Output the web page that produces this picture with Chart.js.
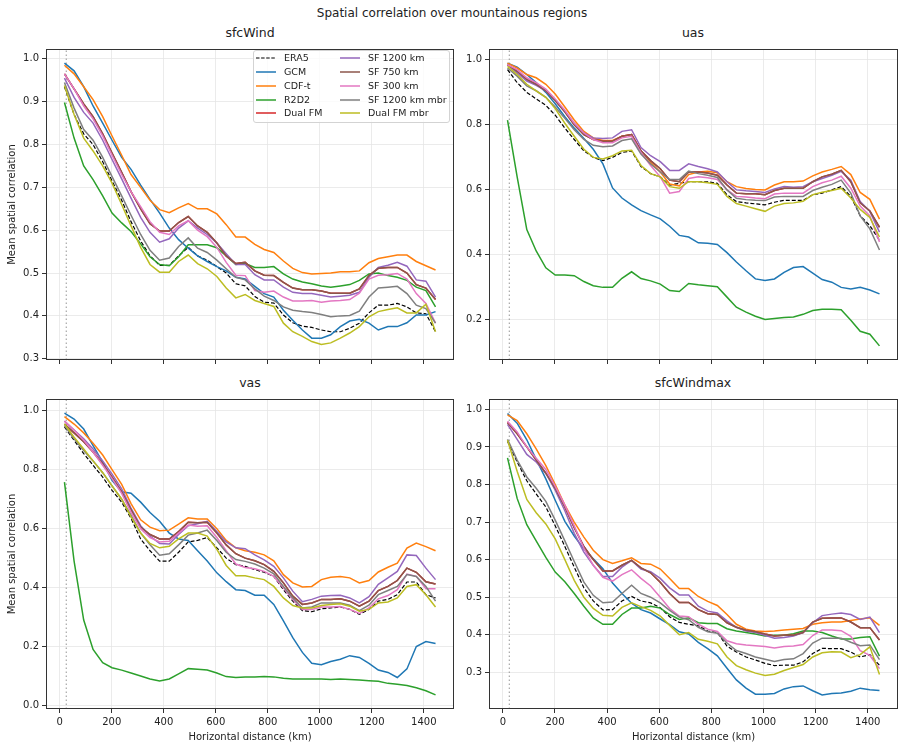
<!DOCTYPE html>
<html>
<head>
<meta charset="utf-8">
<script src="https://cdn.jsdelivr.net/npm/chart.js@4.4.1/dist/chart.umd.min.js"></script>
<style>
  body { margin: 0; background: #fff; font-family: "DejaVu Sans", sans-serif; color: #222; }
  #page { position: relative; width: 905px; height: 749px; overflow: hidden; }
  canvas { position: absolute; }
  .txt { position: absolute; transform: translate(-50%, -50%); white-space: nowrap; line-height: 1; }
  #legend { position: absolute; left: 253px; top: 50px; width: 195px; height: 71px;
    background: rgba(255,255,255,0.8); border: 1px solid #d3d3d3; border-radius: 3px; }
  #legend .item { position: absolute; height: 12px; font-size: 9.5px; line-height: 12px; white-space: nowrap; }
  #legend svg { position: absolute; left: 0; top: 1px; }
  #legend span { position: absolute; left: 28px; top: 0; }
</style>
</head>
<body>
<div id="page">
  <div class="txt" style="left:452px;top:13px;font-size:12px">Spatial correlation over mountainous regions</div>
  <div class="txt" style="left:250px;top:33px;font-size:12.5px">sfcWind</div>
  <div class="txt" style="left:693px;top:33px;font-size:12.5px">uas</div>
  <div class="txt" style="left:250px;top:383px;font-size:12.5px">vas</div>
  <div class="txt" style="left:693px;top:383px;font-size:12.5px">sfcWindmax</div>

  <canvas id="cSfcWind" width="460" height="332" style="left:0;top:40px"></canvas>
  <canvas id="cUas" width="445" height="332" style="left:460px;top:40px"></canvas>
  <canvas id="cVas" width="460" height="359" style="left:0;top:390px"></canvas>
  <canvas id="cSfcWindmax" width="445" height="359" style="left:460px;top:390px"></canvas>

  <div id="legend"></div>
</div>

<script>
// ====== DATA ======
const distanceKm = [18, 55, 92, 128, 165, 201, 238, 274, 311, 347, 384, 421, 457, 494, 530, 567, 604, 640, 677, 713,
  750, 786, 823, 860, 896, 933, 969, 1006, 1042, 1079, 1115, 1152, 1189, 1225, 1262, 1298, 1335, 1371, 1408, 1445];
const xTicks = [0, 200, 400, 600, 800, 1000, 1200, 1400];
const resolutionKm = 25;

const seriesNames = ["ERA5", "GCM", "CDF-t", "R2D2", "Dual FM", "SF 1200 km", "SF 750 km", "SF 300 km", "SF 1200 km mbr", "Dual FM mbr"];
const seriesColors = ["#000000", "#1f77b4", "#ff7f0e", "#2ca02c", "#d62728", "#9467bd", "#8c564b", "#e377c2", "#7f7f7f", "#bcbd22"];

// one row per series, same order as seriesNames
const sfcWindValues = [
  [0.935, 0.87, 0.825, 0.80, 0.76, 0.715, 0.67, 0.62, 0.575, 0.54, 0.518, 0.518, 0.54, 0.56, 0.54, 0.53, 0.515, 0.50, 0.475, 0.47, 0.445, 0.432, 0.43, 0.402, 0.384, 0.376, 0.373, 0.367, 0.363, 0.363, 0.371, 0.383, 0.407, 0.425, 0.425, 0.429, 0.421, 0.407, 0.405, 0.363],
  [0.99, 0.972, 0.935, 0.89, 0.85, 0.81, 0.77, 0.742, 0.705, 0.672, 0.64, 0.605, 0.578, 0.558, 0.54, 0.527, 0.515, 0.505, 0.49, 0.486, 0.469, 0.452, 0.444, 0.413, 0.39, 0.367, 0.348, 0.348, 0.356, 0.375, 0.388, 0.392, 0.383, 0.367, 0.375, 0.375, 0.384, 0.402, 0.402, 0.41],
  [0.985, 0.965, 0.935, 0.905, 0.865, 0.82, 0.775, 0.73, 0.70, 0.67, 0.648, 0.641, 0.652, 0.662, 0.65, 0.65, 0.638, 0.613, 0.584, 0.584, 0.567, 0.555, 0.548, 0.528, 0.511, 0.501, 0.498, 0.499, 0.50, 0.503, 0.503, 0.505, 0.524, 0.534, 0.538, 0.542, 0.542, 0.527, 0.517, 0.507],
  [0.898, 0.815, 0.75, 0.718, 0.68, 0.64, 0.617, 0.597, 0.568, 0.538, 0.52, 0.517, 0.538, 0.566, 0.566, 0.566, 0.559, 0.54, 0.52, 0.522, 0.513, 0.513, 0.515, 0.498, 0.486, 0.479, 0.475, 0.47, 0.467, 0.47, 0.473, 0.483, 0.498, 0.50, 0.494, 0.49, 0.483, 0.467, 0.459, 0.421],
  [0.965, 0.93, 0.895, 0.865, 0.825, 0.78, 0.735, 0.69, 0.65, 0.615, 0.598, 0.598, 0.618, 0.632, 0.61, 0.595, 0.57, 0.54, 0.522, 0.525, 0.505, 0.495, 0.494, 0.478, 0.465, 0.461, 0.461, 0.458, 0.453, 0.453, 0.453, 0.463, 0.494, 0.511, 0.513, 0.513, 0.50, 0.473, 0.465, 0.438],
  [0.955, 0.91, 0.875, 0.85, 0.81, 0.765, 0.72, 0.675, 0.63, 0.595, 0.572, 0.58, 0.605, 0.622, 0.605, 0.59, 0.57, 0.545, 0.52, 0.52, 0.496, 0.484, 0.484, 0.467, 0.455, 0.452, 0.452, 0.448, 0.444, 0.446, 0.448, 0.455, 0.49, 0.513, 0.518, 0.525, 0.516, 0.484, 0.481, 0.444],
  [0.965, 0.93, 0.895, 0.865, 0.825, 0.78, 0.735, 0.69, 0.65, 0.615, 0.598, 0.598, 0.618, 0.632, 0.61, 0.595, 0.57, 0.54, 0.522, 0.525, 0.505, 0.495, 0.494, 0.478, 0.465, 0.461, 0.461, 0.458, 0.453, 0.453, 0.453, 0.463, 0.494, 0.511, 0.513, 0.513, 0.50, 0.473, 0.465, 0.438],
  [0.965, 0.93, 0.89, 0.86, 0.82, 0.775, 0.73, 0.69, 0.655, 0.62, 0.595, 0.59, 0.61, 0.622, 0.60, 0.585, 0.56, 0.525, 0.495, 0.494, 0.459, 0.455, 0.458, 0.444, 0.435, 0.435, 0.436, 0.432, 0.435, 0.436, 0.438, 0.453, 0.486, 0.495, 0.496, 0.499, 0.486, 0.452, 0.429, 0.383],
  [0.945, 0.885, 0.835, 0.81, 0.77, 0.725, 0.68, 0.635, 0.59, 0.553, 0.53, 0.535, 0.562, 0.582, 0.558, 0.548, 0.53, 0.51, 0.49, 0.484, 0.463, 0.446, 0.436, 0.421, 0.413, 0.41, 0.408, 0.403, 0.398, 0.40, 0.401, 0.411, 0.444, 0.465, 0.467, 0.469, 0.452, 0.425, 0.417, 0.383],
  [0.938, 0.87, 0.815, 0.785, 0.75, 0.71, 0.66, 0.61, 0.56, 0.52, 0.502, 0.502, 0.527, 0.542, 0.522, 0.51, 0.492, 0.465, 0.442, 0.45, 0.436, 0.429, 0.422, 0.383, 0.363, 0.352, 0.34, 0.333, 0.337, 0.348, 0.36, 0.375, 0.398, 0.41, 0.415, 0.419, 0.407, 0.407, 0.427, 0.363]
];

const uasValues = [
  [0.97, 0.93, 0.90, 0.88, 0.86, 0.83, 0.79, 0.755, 0.72, 0.70, 0.69, 0.70, 0.715, 0.72, 0.672, 0.65, 0.64, 0.615, 0.62, 0.625, 0.625, 0.625, 0.62, 0.585, 0.564, 0.56, 0.557, 0.554, 0.562, 0.568, 0.568, 0.568, 0.585, 0.59, 0.60, 0.61, 0.58, 0.52, 0.49, 0.445],
  [0.99, 0.978, 0.955, 0.93, 0.90, 0.865, 0.825, 0.79, 0.758, 0.725, 0.68, 0.606, 0.575, 0.554, 0.536, 0.523, 0.511, 0.488, 0.46, 0.455, 0.437, 0.436, 0.432, 0.407, 0.378, 0.351, 0.326, 0.321, 0.326, 0.346, 0.361, 0.364, 0.344, 0.324, 0.316, 0.30, 0.295, 0.30, 0.292, 0.28],
  [0.99, 0.975, 0.955, 0.945, 0.925, 0.895, 0.855, 0.815, 0.78, 0.76, 0.752, 0.752, 0.765, 0.77, 0.72, 0.685, 0.655, 0.618, 0.612, 0.647, 0.655, 0.657, 0.653, 0.625, 0.61, 0.604, 0.601, 0.60, 0.615, 0.625, 0.625, 0.627, 0.643, 0.655, 0.663, 0.672, 0.647, 0.592, 0.571, 0.51],
  [0.815, 0.64, 0.478, 0.412, 0.36, 0.338, 0.338, 0.336, 0.318, 0.305, 0.30, 0.30, 0.328, 0.348, 0.327, 0.32, 0.31, 0.29, 0.287, 0.312, 0.308, 0.305, 0.302, 0.27, 0.239, 0.224, 0.211, 0.201, 0.204, 0.207, 0.209, 0.217, 0.229, 0.233, 0.233, 0.231, 0.199, 0.165, 0.156, 0.12],
  [0.985, 0.965, 0.94, 0.925, 0.905, 0.875, 0.84, 0.80, 0.77, 0.755, 0.75, 0.75, 0.765, 0.77, 0.72, 0.69, 0.665, 0.63, 0.625, 0.655, 0.655, 0.652, 0.645, 0.615, 0.59, 0.588, 0.588, 0.585, 0.598, 0.605, 0.605, 0.605, 0.625, 0.64, 0.648, 0.66, 0.625, 0.56, 0.535, 0.485],
  [0.985, 0.96, 0.935, 0.922, 0.905, 0.875, 0.84, 0.805, 0.775, 0.76, 0.758, 0.76, 0.78, 0.785, 0.73, 0.705, 0.687, 0.66, 0.66, 0.68, 0.672, 0.665, 0.655, 0.625, 0.60, 0.597, 0.595, 0.592, 0.603, 0.61, 0.608, 0.61, 0.625, 0.635, 0.645, 0.657, 0.63, 0.564, 0.534, 0.47],
  [0.985, 0.965, 0.94, 0.925, 0.905, 0.875, 0.84, 0.80, 0.77, 0.755, 0.75, 0.75, 0.765, 0.77, 0.72, 0.69, 0.665, 0.63, 0.625, 0.655, 0.655, 0.652, 0.645, 0.615, 0.59, 0.588, 0.588, 0.585, 0.598, 0.605, 0.605, 0.605, 0.625, 0.64, 0.648, 0.66, 0.625, 0.56, 0.535, 0.485],
  [0.985, 0.97, 0.945, 0.93, 0.91, 0.88, 0.845, 0.805, 0.775, 0.755, 0.745, 0.745, 0.76, 0.765, 0.715, 0.675, 0.64, 0.59, 0.595, 0.635, 0.64, 0.637, 0.632, 0.60, 0.58, 0.578, 0.575, 0.573, 0.587, 0.59, 0.59, 0.59, 0.61, 0.622, 0.63, 0.642, 0.605, 0.55, 0.52, 0.44],
  [0.975, 0.95, 0.92, 0.905, 0.885, 0.855, 0.82, 0.785, 0.755, 0.737, 0.733, 0.735, 0.752, 0.757, 0.71, 0.68, 0.655, 0.632, 0.632, 0.658, 0.65, 0.645, 0.638, 0.60, 0.574, 0.57, 0.568, 0.567, 0.578, 0.58, 0.58, 0.58, 0.598, 0.608, 0.617, 0.63, 0.59, 0.52, 0.48, 0.415],
  [0.98, 0.955, 0.925, 0.905, 0.885, 0.85, 0.805, 0.765, 0.725, 0.70, 0.695, 0.705, 0.72, 0.722, 0.675, 0.65, 0.64, 0.61, 0.605, 0.625, 0.625, 0.622, 0.617, 0.58, 0.558, 0.55, 0.542, 0.534, 0.55, 0.558, 0.56, 0.565, 0.585, 0.593, 0.598, 0.605, 0.575, 0.54, 0.515, 0.455]
];

const vasValues = [
  [0.945, 0.90, 0.855, 0.815, 0.775, 0.73, 0.69, 0.635, 0.565, 0.525, 0.49, 0.49, 0.52, 0.555, 0.56, 0.57, 0.535, 0.50, 0.478, 0.472, 0.461, 0.452, 0.438, 0.393, 0.354, 0.322, 0.318, 0.328, 0.331, 0.334, 0.326, 0.309, 0.326, 0.354, 0.36, 0.376, 0.419, 0.419, 0.376, 0.365],
  [0.992, 0.972, 0.938, 0.882, 0.826, 0.764, 0.725, 0.72, 0.69, 0.655, 0.625, 0.585, 0.565, 0.56, 0.525, 0.49, 0.45, 0.42, 0.393, 0.39, 0.374, 0.374, 0.343, 0.287, 0.23, 0.18, 0.143, 0.138, 0.149, 0.157, 0.169, 0.163, 0.143, 0.12, 0.112, 0.095, 0.124, 0.20, 0.217, 0.21],
  [0.98, 0.955, 0.925, 0.89, 0.85, 0.80, 0.75, 0.685, 0.63, 0.605, 0.593, 0.595, 0.615, 0.637, 0.633, 0.633, 0.60, 0.56, 0.535, 0.525, 0.52, 0.511, 0.491, 0.444, 0.416, 0.402, 0.404, 0.427, 0.435, 0.438, 0.433, 0.416, 0.424, 0.453, 0.469, 0.483, 0.534, 0.551, 0.539, 0.525],
  [0.758, 0.49, 0.29, 0.19, 0.145, 0.128, 0.12, 0.11, 0.10, 0.09, 0.083, 0.09, 0.107, 0.125, 0.123, 0.12, 0.11, 0.098, 0.095, 0.097, 0.097, 0.098, 0.097, 0.092, 0.09, 0.09, 0.09, 0.09, 0.088, 0.09, 0.088, 0.086, 0.084, 0.082, 0.075, 0.072, 0.068, 0.06, 0.05, 0.036],
  [0.955, 0.925, 0.895, 0.86, 0.82, 0.775, 0.725, 0.665, 0.605, 0.58, 0.565, 0.565, 0.59, 0.622, 0.62, 0.622, 0.585, 0.545, 0.515, 0.50, 0.491, 0.478, 0.455, 0.416, 0.371, 0.343, 0.348, 0.36, 0.36, 0.362, 0.354, 0.337, 0.354, 0.39, 0.404, 0.424, 0.466, 0.452, 0.42, 0.412],
  [0.965, 0.935, 0.905, 0.87, 0.83, 0.785, 0.735, 0.67, 0.61, 0.575, 0.55, 0.548, 0.58, 0.61, 0.617, 0.625, 0.59, 0.555, 0.535, 0.532, 0.511, 0.494, 0.472, 0.433, 0.388, 0.352, 0.36, 0.371, 0.373, 0.374, 0.365, 0.348, 0.369, 0.411, 0.433, 0.455, 0.511, 0.509, 0.466, 0.427],
  [0.955, 0.925, 0.895, 0.86, 0.82, 0.775, 0.725, 0.665, 0.605, 0.58, 0.565, 0.565, 0.59, 0.622, 0.62, 0.622, 0.585, 0.545, 0.515, 0.50, 0.491, 0.478, 0.455, 0.416, 0.371, 0.343, 0.348, 0.36, 0.36, 0.362, 0.354, 0.337, 0.354, 0.39, 0.404, 0.424, 0.466, 0.452, 0.42, 0.412],
  [0.965, 0.935, 0.90, 0.86, 0.815, 0.77, 0.72, 0.655, 0.60, 0.57, 0.555, 0.557, 0.585, 0.612, 0.608, 0.61, 0.57, 0.525, 0.48, 0.468, 0.464, 0.455, 0.438, 0.399, 0.36, 0.326, 0.326, 0.334, 0.334, 0.336, 0.326, 0.312, 0.331, 0.362, 0.373, 0.393, 0.446, 0.438, 0.396, 0.396],
  [0.95, 0.905, 0.865, 0.83, 0.79, 0.745, 0.70, 0.645, 0.585, 0.545, 0.51, 0.515, 0.545, 0.578, 0.585, 0.595, 0.56, 0.52, 0.495, 0.489, 0.48, 0.466, 0.447, 0.404, 0.365, 0.331, 0.334, 0.348, 0.348, 0.348, 0.34, 0.322, 0.34, 0.376, 0.39, 0.404, 0.444, 0.438, 0.404, 0.354],
  [0.955, 0.91, 0.87, 0.83, 0.79, 0.745, 0.70, 0.64, 0.585, 0.55, 0.535, 0.54, 0.565, 0.585, 0.585, 0.575, 0.53, 0.475, 0.44, 0.44, 0.433, 0.427, 0.404, 0.365, 0.339, 0.331, 0.331, 0.339, 0.343, 0.345, 0.337, 0.32, 0.326, 0.348, 0.351, 0.365, 0.404, 0.41, 0.376, 0.334]
];

const sfcWindmaxValues = [
  [0.915, 0.86, 0.81, 0.775, 0.74, 0.69, 0.635, 0.58, 0.525, 0.49, 0.466, 0.467, 0.49, 0.502, 0.49, 0.485, 0.472, 0.448, 0.433, 0.428, 0.424, 0.41, 0.406, 0.37, 0.354, 0.341, 0.333, 0.324, 0.318, 0.319, 0.319, 0.328, 0.35, 0.364, 0.363, 0.363, 0.354, 0.341, 0.347, 0.319],
  [0.989, 0.963, 0.919, 0.867, 0.815, 0.758, 0.702, 0.663, 0.628, 0.602, 0.576, 0.538, 0.51, 0.484, 0.467, 0.458, 0.442, 0.427, 0.408, 0.402, 0.38, 0.363, 0.344, 0.311, 0.28, 0.258, 0.242, 0.242, 0.244, 0.256, 0.262, 0.264, 0.251, 0.24, 0.244, 0.245, 0.25, 0.258, 0.254, 0.252],
  [0.985, 0.97, 0.935, 0.895, 0.85, 0.80, 0.745, 0.70, 0.66, 0.625, 0.60, 0.59, 0.597, 0.605, 0.59, 0.588, 0.575, 0.55, 0.523, 0.523, 0.502, 0.489, 0.478, 0.454, 0.428, 0.415, 0.41, 0.409, 0.41, 0.413, 0.415, 0.417, 0.428, 0.432, 0.434, 0.434, 0.438, 0.442, 0.445, 0.425],
  [0.871, 0.763, 0.693, 0.65, 0.606, 0.567, 0.541, 0.51, 0.476, 0.445, 0.428, 0.428, 0.454, 0.471, 0.471, 0.476, 0.471, 0.454, 0.441, 0.445, 0.432, 0.43, 0.43, 0.416, 0.41, 0.406, 0.402, 0.397, 0.399, 0.399, 0.403, 0.41, 0.41, 0.406, 0.397, 0.389, 0.389, 0.393, 0.395, 0.343],
  [0.965, 0.935, 0.90, 0.865, 0.83, 0.79, 0.74, 0.685, 0.635, 0.60, 0.57, 0.57, 0.585, 0.598, 0.578, 0.565, 0.54, 0.51, 0.486, 0.486, 0.467, 0.456, 0.454, 0.432, 0.42, 0.412, 0.408, 0.402, 0.397, 0.399, 0.399, 0.406, 0.434, 0.444, 0.445, 0.445, 0.434, 0.419, 0.419, 0.386],
  [0.96, 0.92, 0.88, 0.86, 0.83, 0.785, 0.73, 0.67, 0.62, 0.585, 0.555, 0.555, 0.58, 0.598, 0.575, 0.568, 0.55, 0.525, 0.506, 0.506, 0.476, 0.463, 0.458, 0.437, 0.42, 0.41, 0.406, 0.399, 0.391, 0.393, 0.397, 0.406, 0.432, 0.451, 0.455, 0.458, 0.454, 0.441, 0.447, 0.406],
  [0.965, 0.935, 0.90, 0.865, 0.83, 0.79, 0.74, 0.685, 0.635, 0.60, 0.57, 0.57, 0.585, 0.598, 0.578, 0.565, 0.54, 0.51, 0.486, 0.486, 0.467, 0.456, 0.454, 0.432, 0.42, 0.412, 0.408, 0.402, 0.397, 0.399, 0.399, 0.406, 0.434, 0.444, 0.445, 0.445, 0.434, 0.419, 0.419, 0.386],
  [0.968, 0.94, 0.90, 0.87, 0.84, 0.795, 0.745, 0.69, 0.63, 0.585, 0.553, 0.543, 0.56, 0.573, 0.55, 0.53, 0.50, 0.47, 0.45, 0.448, 0.428, 0.415, 0.409, 0.384, 0.376, 0.373, 0.371, 0.369, 0.365, 0.369, 0.37, 0.374, 0.398, 0.413, 0.413, 0.411, 0.396, 0.358, 0.345, 0.31],
  [0.92, 0.865, 0.82, 0.79, 0.755, 0.705, 0.65, 0.595, 0.54, 0.505, 0.485, 0.487, 0.51, 0.532, 0.51, 0.50, 0.485, 0.465, 0.447, 0.44, 0.42, 0.408, 0.404, 0.378, 0.358, 0.35, 0.341, 0.335, 0.329, 0.334, 0.336, 0.35, 0.378, 0.391, 0.391, 0.391, 0.38, 0.371, 0.373, 0.334],
  [0.918, 0.835, 0.76, 0.725, 0.695, 0.655, 0.60, 0.545, 0.50, 0.47, 0.452, 0.45, 0.473, 0.485, 0.475, 0.465, 0.45, 0.425, 0.40, 0.406, 0.388, 0.383, 0.376, 0.341, 0.318, 0.307, 0.298, 0.292, 0.295, 0.305, 0.313, 0.321, 0.341, 0.352, 0.355, 0.354, 0.339, 0.347, 0.368, 0.294]
];

const sfcWindTicks = [0.3, 0.4, 0.5, 0.6, 0.7, 0.8, 0.9, 1.0];
const uasTicks = [0.2, 0.4, 0.6, 0.8, 1.0];
const vasTicks = [0.0, 0.2, 0.4, 0.6, 0.8, 1.0];
const sfcWindmaxTicks = [0.3, 0.4, 0.5, 0.6, 0.7, 0.8, 0.9, 1.0];

// ====== CHARTS ======
Chart.defaults.font.family = "'DejaVu Sans', sans-serif";
Chart.defaults.color = "#222";

// full box round the plot area, like matplotlib spines
const framePlugin = {
  id: "frame",
  afterDraw(chart) {
    const { ctx, chartArea: a } = chart;
    ctx.save();
    ctx.strokeStyle = "#333";
    ctx.lineWidth = 1;
    ctx.strokeRect(Math.round(a.left) + 0.5, Math.round(a.top) + 0.5,
      Math.round(a.right - a.left) - 1, Math.round(a.bottom - a.top) - 1);
    ctx.restore();
  }
};

const gridStyle = { color: "#e6e6e6", lineWidth: 0.8, tickColor: "#333", tickLength: 4, tickWidth: 1 };

function makeChart(canvasId, values, yTicks, yMin, yMax, opt) {
  const datasets = values.map((vals, i) => ({
    label: seriesNames[i],
    data: vals.map((v, k) => ({ x: distanceKm[k], y: v })),
    borderColor: seriesColors[i],
    borderWidth: i === 0 ? 1.2 : 1.5,
    borderDash: i === 0 ? [4, 2] : [],
    pointRadius: 0,
    fill: false,
    tension: 0,
    order: -i
  }));

  datasets.push({
    label: "resolution",
    data: [{ x: resolutionKm, y: yMin }, { x: resolutionKm, y: yMax }],
    borderColor: "#a8a8a8",
    borderWidth: 1.2,
    borderDash: [1.5, 2.5],
    pointRadius: 0,
    order: 10
  });

  return new Chart(document.getElementById(canvasId), {
    type: "line",
    data: { datasets },
    options: {
      responsive: false,
      animation: false,
      devicePixelRatio: 1,
      layout: { padding: opt.padding },
      plugins: { legend: { display: false }, tooltip: { enabled: false } },
      scales: {
        x: {
          type: "linear",
          min: -53,
          max: 1516,
          afterBuildTicks: s => { s.ticks = xTicks.map(v => ({ value: v })); },
          afterFit: s => { s.height = opt.xHeight; },
          ticks: {
            autoSkip: false, maxRotation: 0, padding: 3,
            font: { size: 10 },
            callback: v => (opt.xLabels ? String(v) : "")
          },
          grid: gridStyle,
          border: { display: false },
          title: {
            display: opt.xLabels,
            text: "Horizontal distance (km)",
            font: { size: 10 },
            padding: { top: 0, bottom: 6 }
          }
        },
        y: {
          min: yMin,
          max: yMax,
          afterBuildTicks: s => { s.ticks = yTicks.map(v => ({ value: v })); },
          afterFit: s => { s.width = opt.yWidth; },
          ticks: {
            autoSkip: false, padding: 3,
            font: { size: 10 },
            callback: v => v.toFixed(1)
          },
          grid: gridStyle,
          border: { display: false },
          title: {
            display: opt.yTitle,
            text: "Mean spatial correlation",
            font: { size: 10 },
            padding: { top: 6, bottom: 0 }
          }
        }
      }
    },
    plugins: [framePlugin]
  });
}

makeChart("cSfcWind", sfcWindValues, sfcWindTicks, 0.297, 1.023,
  { padding: { top: 4, right: 6, left: 0, bottom: 0 }, yWidth: 46, xHeight: 12, xLabels: false, yTitle: true });
makeChart("cUas", uasValues, uasTicks, 0.0765, 1.0335,
  { padding: { top: 4, right: 7, left: 0, bottom: 0 }, yWidth: 29, xHeight: 12, xLabels: false, yTitle: false });
makeChart("cVas", vasValues, vasTicks, -0.012, 1.04,
  { padding: { top: 4, right: 6, left: 0, bottom: 0 }, yWidth: 46, xHeight: 40, xLabels: true, yTitle: true });
makeChart("cSfcWindmax", sfcWindmaxValues, sfcWindmaxTicks, 0.2025, 1.0275,
  { padding: { top: 4, right: 7, left: 0, bottom: 0 }, yWidth: 29, xHeight: 40, xLabels: true, yTitle: false });

// ====== LEGEND (two columns, inside sfcWind panel) ======
const legendBox = document.getElementById("legend");
seriesNames.forEach((name, i) => {
  const col = Math.floor(i / 5);
  const row = i % 5;
  const item = document.createElement("div");
  item.className = "item";
  item.style.left = (col === 0 ? 2 : 86) + "px";
  item.style.top = (1 + row * 13.85) + "px";
  const dash = i === 0 ? 'stroke-dasharray="3.5,1.6"' : "";
  const width = i === 0 ? 1.2 : 1.5;
  item.innerHTML = `<svg width="21" height="10"><line x1="0" y1="5" x2="20" y2="5" stroke="${seriesColors[i]}" stroke-width="${width}" ${dash}/></svg><span>${name}</span>`;
  legendBox.appendChild(item);
});
</script>
</body>
</html>
